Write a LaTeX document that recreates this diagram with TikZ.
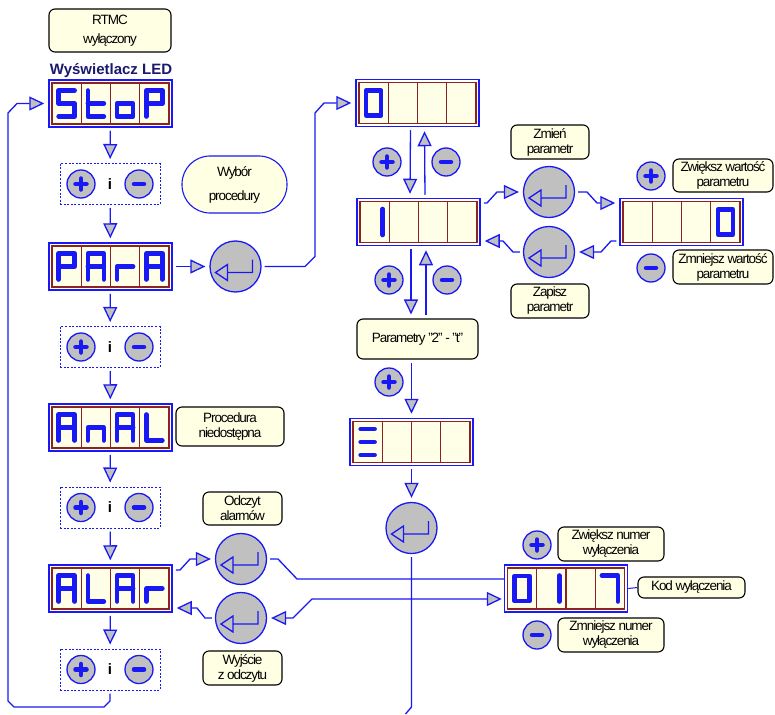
\documentclass[tikz,border=0pt]{standalone}
\usepackage{fontspec}
\setmainfont{Liberation Sans}[LetterSpace=-8]
\newfontfamily\ledfont{Liberation Sans}
\usetikzlibrary{arrows.meta,calc}
\definecolor{lb}{RGB}{25,25,245}
\definecolor{cellred}{RGB}{140,35,35}
\definecolor{cellfill}{RGB}{255,255,232}
\definecolor{boxfill}{RGB}{255,255,228}
\definecolor{btngray}{RGB}{192,192,192}
\definecolor{navy}{RGB}{25,25,110}
\tikzset{
  conn/.style={draw=lb, line width=1.3pt, shorten <=3pt, shorten >=4pt},
  arr/.style={conn, -{Triangle[length=15pt,width=14pt,fill=btngray]}},
  arrboth/.style={conn, shorten <=2pt, {Triangle[length=15pt,width=14pt,fill=btngray]}-{Triangle[length=15pt,width=14pt,fill=btngray]}},
  dispbox/.style={draw=lb, line width=1.5pt, fill=white, minimum width=123pt, minimum height=47pt, inner sep=0pt},
  cellbox/.style={draw=cellred, line width=1.2pt, fill=cellfill},
  digit/.style={draw=lb, line width=4.6pt, line cap=round, line join=round},
  tbox/.style={draw=black, line width=1.1pt, rounded corners=6pt, fill=boxfill, align=center, inner sep=0pt, font=\fontsize{13.5}{15}\selectfont},
  pmbox/.style={draw=lb, line width=1pt, dash pattern=on 2pt off 1.6pt, minimum width=100pt, minimum height=41pt, inner sep=0pt, font=\ledfont\bfseries\fontsize{15}{15}\selectfont},
  smallbtn/.style={circle, draw=lb, line width=1.3pt, fill=btngray, minimum size=28pt, inner sep=0pt},
  enterbtn/.style={circle, draw=lb, line width=1.3pt, fill=btngray, minimum size=51pt, inner sep=0pt},
  symline/.style={draw=lb, line width=4.5pt, line cap=round},
  esym/.style={draw=lb, line width=1.3pt, line join=miter},
}
\def\DgS{(8,-13)--(-8,-13)--(-8,0)--(8,0)--(8,13)--(-8,13)}
\def\Dgt{(-8,-13)--(-8,13)--(8,13) (-8,0)--(8,0)}
\def\Dgo{(-8,0)--(8,0)--(8,13)--(-8,13)--cycle}
\def\DgP{(-8,13)--(-8,-13)--(8,-13)--(8,0)--(-8,0)}
\def\DgA{(-8,13)--(-8,-13)--(8,-13)--(8,13) (-8,0)--(8,0)}
\def\Dgr{(-8,13)--(-8,0)--(8,0)}
\def\Dgn{(-8,13)--(-8,0)--(8,0)--(8,13)}
\def\DgL{(-8,-13)--(-8,13)--(8,13)}
\def\DgZ{(-7.5,-12.5) rectangle (7.5,12.5)}
\def\DgI{(8,-13)--(8,13)}
\def\DgVII{(-8,-13)--(8,-13)--(8,13)}
\def\DgE{(-7,-13)--(7,-13) (-7,0)--(7,0) (-7,13)--(7,13)}
\def\DgX{}
\newcommand\leddisp[7]{%
  \node[dispbox] (#1) at (#2,#3) {};
  \draw[cellbox] (#2-58.5,#3-20.5) rectangle (#2-29.25,#3+20.5);
  \draw[cellbox] (#2-29.25,#3-20.5) rectangle (#2,#3+20.5);
  \draw[cellbox] (#2,#3-20.5) rectangle (#2+29.25,#3+20.5);
  \draw[cellbox] (#2+29.25,#3-20.5) rectangle (#2+58.5,#3+20.5);
  \draw[digit,shift={(#2-43.875,#3)}] #4;
  \draw[digit,shift={(#2-14.625,#3)}] #5;
  \draw[digit,shift={(#2+14.625,#3)}] #6;
  \draw[digit,shift={(#2+43.875,#3)}] #7;
}
\newcommand\plussym[1]{\draw[symline] ($(#1)+(-5.5,0)$) -- ($(#1)+(5.5,0)$) ($(#1)+(0,-5.5)$) -- ($(#1)+(0,5.5)$);}
\newcommand\minussym[1]{\draw[symline] ($(#1)+(-5,0)$) -- ($(#1)+(5,0)$);}
\newcommand\entersym[1]{\draw[esym] ($(#1)+(-20,6)$) -- ($(#1)+(-8,-2)$) -- ($(#1)+(-8,14)$) -- cycle ($(#1)+(-8,6)$) -- ($(#1)+(17,6)$) -- ($(#1)+(17,-7)$);}
\newcommand\pmgroup[3]{%
  \node[pmbox] (#1) at (#2,#3) {i};
  \node[smallbtn] (#1p) at (#2-29,#3) {};
  \node[smallbtn] (#1m) at (#2+29,#3) {};
  \plussym{#1p}\minussym{#1m}}
\newcommand\pbtn[3]{\node[smallbtn] (#1) at (#2,#3) {};\plussym{#1}}
\newcommand\mbtn[3]{\node[smallbtn] (#1) at (#2,#3) {};\minussym{#1}}
\newcommand\ebtn[3]{\node[enterbtn] (#1) at (#2,#3) {};\entersym{#1}}
\begin{document}
\begin{tikzpicture}[x=1pt,y=-1pt]
\useasboundingbox[fill=white] (0,0) rectangle (775,714);
% labels
\node[tbox, minimum width=122pt, minimum height=43pt, font=\fontsize{13.5}{19}\selectfont] (rtmc) at (110,30.5) {RTMC\\wyłączony};
\node[font=\ledfont\bfseries\fontsize{15}{16}\selectfont, text=navy, inner sep=0pt] (ledlbl) at (111,71) {Wyświetlacz LED};
\node[tbox, draw=lb, minimum width=105pt, minimum height=57pt, rounded corners=28pt, font=\fontsize{13.5}{24}\selectfont] (wybor) at (234.5,184.5) {Wybór\\procedury};
\node[tbox, minimum width=108pt, minimum height=39pt] (proc) at (230,426.5) {Procedura\\niedostępna};
\node[tbox, minimum width=79pt, minimum height=33pt] (odcz) at (242.5,508.5) {Odczyt\\alarmów};
\node[tbox, minimum width=79pt, minimum height=34pt] (wyj) at (242.5,668) {Wyjście\\z odczytu};
\node[tbox, minimum width=78pt, minimum height=34pt] (zmien) at (550,142) {Zmień\\parametr};
\node[tbox, minimum width=78pt, minimum height=34pt] (zapisz) at (550,301) {Zapisz\\parametr};
\node[tbox, minimum width=100pt, minimum height=33pt] (zwW) at (723,175.5) {Zwiększ wartość\\parametru};
\node[tbox, minimum width=100pt, minimum height=34pt] (zmW) at (723,267) {Zmniejsz wartość\\parametru};
\node[tbox, minimum width=121pt, minimum height=40pt] (param) at (417.5,339) {Parametry "2" - "t"};
\node[tbox, minimum width=106pt, minimum height=34pt] (zwN) at (611,544) {Zwiększ numer\\wyłączenia};
\node[tbox, minimum width=106pt, minimum height=34pt] (zmN) at (611,635) {Zmniejsz numer\\wyłączenia};
\node[tbox, minimum width=107pt, minimum height=21pt] (kod) at (691.5,587.5) {Kod wyłączenia};
% displays
\leddisp{stop}{110.5}{103.5}{\DgS}{\Dgt}{\Dgo}{\DgP}
\leddisp{para}{110.5}{266.5}{\DgP}{\DgA}{\Dgr}{\DgA}
\leddisp{anal}{110.5}{427.5}{\DgA}{\Dgn}{\DgA}{\DgL}
\leddisp{alar}{110.5}{588.5}{\DgA}{\DgL}{\DgA}{\Dgr}
\leddisp{dz}{417.5}{103}{\DgZ}{\DgX}{\DgX}{\DgX}
\leddisp{dj}{418.5}{222}{\DgI}{\DgX}{\DgX}{\DgX}
\leddisp{de}{411.5}{442}{\DgE}{\DgX}{\DgX}{\DgX}
\leddisp{dr}{681.5}{222}{\DgX}{\DgX}{\DgX}{\DgZ}
\leddisp{dk}{566}{588.5}{\DgZ}{\DgI}{\DgX}{\DgVII}
% plus / minus groups
\pmgroup{pmA}{110}{184}
\pmgroup{pmB}{110}{347}
\pmgroup{pmC}{110}{507.5}
\pmgroup{pmD}{110}{669.5}
\pbtn{pz}{387}{162}
\mbtn{mz}{446}{162}
\pbtn{pj}{389}{280}
\mbtn{mj}{447}{280}
\pbtn{pp}{389}{382}
\pbtn{pw}{651}{176}
\mbtn{mw}{651}{268}
\pbtn{pn}{537}{545}
\mbtn{mn}{537}{635}
% enter buttons
\ebtn{eP}{235.5}{266.5}
\ebtn{eZm}{549}{192}
\ebtn{eZa}{549}{252}
\ebtn{eE}{411.5}{528}
\ebtn{eO}{241}{559}
\ebtn{eW}{241}{618}
% left column connectors
\draw[arr] (stop) -- (pmA);
\draw[arr] (pmA) -- (para);
\draw[arr] (para) -- (pmB);
\draw[arr] (pmB) -- (anal);
\draw[arr] (anal) -- (pmC);
\draw[arr] (pmC) -- (alar);
\draw[arr] (alar) -- (pmD);
\draw[arr] (pmD.south) -- (110,701) -- (104,707) -- (14,707) -- (8,701) -- (8,113) -- (17,103.5) -- (stop.west);
% PARA to procedure
\draw[arr] (para) -- (eP);
\draw[arr] (eP.east) -- (305,266.5) -- (315,256.5) -- (315,113) -- (324,103) -- (dz.west);
\draw[arr] ($(dz.south)+(-7,0)$) -- ($(dj.north)+(-8.5,0)$);
\draw[arr] ($(dj.north)+(6.5,0)$) -- ($(dz.south)+(7,0)$);
\draw[arr] ($(dj.south)+(-7.5,0)$) -- ($(param.north)+(-6.5,0)$);
\draw[arr] ($(param.north)+(8.5,0)$) -- ($(dj.south)+(7.5,0)$);
\draw[arr] (de.north |- param.south) -- (de.north);
\draw[arr] (de) -- (eE);
\coordinate (eEend) at (405.5,714);
\draw[conn, shorten >=0pt] (eE) -- (411.5,707) -- (eEend);
% parameter edit
\draw[arr] ($(dj.east)+(0,-19)$) -- (487,203) -- (497,192) -- (eZm.west);
\draw[arr] (eZm.east) -- (587,192) -- (597,203) -- ($(dr.west)+(0,-19)$);
\draw[arr] ($(dr.west)+(0,19)$) -- (611,241) -- (601,252) -- (eZa.east);
\draw[arr] (eZa.west) -- (513,252) -- (503,241) -- ($(dj.east)+(0,19)$);
% alarms
\draw[arr] ($(alar.east)+(0,-18.5)$) -- (180,570) -- (190,559) -- (eO.west);
\draw[arr] (eW.west) -- (205,618) -- (197,608) -- ($(alar.east)+(0,19.5)$);
\draw[conn, shorten >=0pt] (eO.east) -- (278,559) -- (297,579) -- ($(dk.west)+(0,-9.5)$);
\draw[arrboth] ($(dk.west)+(0,10.5)$) -- (312,599) -- (293,618) -- (eW.east);
\draw[draw=lb, line width=1pt] (dk.east) -- (kod.west);
\end{tikzpicture}
\end{document}
